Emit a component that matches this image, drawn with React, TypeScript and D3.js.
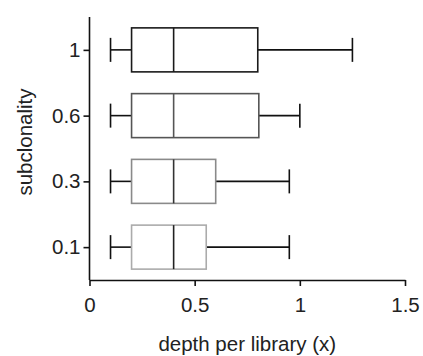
import React, { useEffect, useRef } from 'react';
import * as d3 from 'd3';

const categories = ['1', '0.6', '0.3', '0.1'];
const whiskerLow = [0.1, 0.1, 0.1, 0.1];
const q1 = [0.2, 0.2, 0.2, 0.2];
const median = [0.4, 0.4, 0.4, 0.4];
const q3 = [0.8, 0.805, 0.6, 0.555];
const whiskerHigh = [1.25, 1.0, 0.95, 0.95];
const boxColors = ['#1a1a1a', '#555555', '#8a8a8a', '#ababab'];
const medianColors = ['#1a1a1a', '#555555', '#333333', '#222222'];
const xTicks = [0, 0.5, 1, 1.5];

const App = () => {
  const svgRef = useRef(null);

  useEffect(() => {
    const svg = d3.select(svgRef.current);
    svg.selectAll('*').remove();

    const width = 423;
    const height = 356;
    const margin = { top: 17, right: 18, bottom: 76, left: 89.5 };
    const font = 'Liberation Sans, Arial, sans-serif';
    const fontSize = '20.5px';

    svg.attr('width', width).attr('height', height);

    const x = d3.scaleLinear()
      .domain([0, 1.5])
      .range([margin.left, width - margin.right]);

    const y = d3.scalePoint()
      .domain(categories)
      .range([margin.top, height - margin.bottom])
      .padding(0.5);

    const boxH = 44;

    // boxes
    categories.forEach((c, i) => {
      const cy = y(c);
      const g = svg.append('g');
      // whiskers
      g.append('line')
        .attr('x1', x(whiskerLow[i])).attr('x2', x(q1[i]))
        .attr('y1', cy).attr('y2', cy)
        .attr('stroke', '#111').attr('stroke-width', 1.6);
      g.append('line')
        .attr('x1', x(q3[i])).attr('x2', x(whiskerHigh[i]))
        .attr('y1', cy).attr('y2', cy)
        .attr('stroke', '#111').attr('stroke-width', 1.6);
      [whiskerLow[i], whiskerHigh[i]].forEach(v => {
        g.append('line')
          .attr('x1', x(v)).attr('x2', x(v))
          .attr('y1', cy - 12).attr('y2', cy + 12)
          .attr('stroke', '#111').attr('stroke-width', 1.6);
      });
      g.append('rect')
        .attr('x', x(q1[i]))
        .attr('y', cy - boxH / 2)
        .attr('width', x(q3[i]) - x(q1[i]))
        .attr('height', boxH)
        .attr('fill', 'white')
        .attr('stroke', boxColors[i])
        .attr('stroke-width', 1.6);
      g.append('line')
        .attr('x1', x(median[i])).attr('x2', x(median[i]))
        .attr('y1', cy - boxH / 2).attr('y2', cy + boxH / 2)
        .attr('stroke', medianColors[i]).attr('stroke-width', 1.6);
    });

    // x axis
    const xAxis = svg.append('g')
      .attr('transform', `translate(0,${height - margin.bottom})`)
      .call(d3.axisBottom(x).tickValues(xTicks).tickFormat(d => String(d)).tickSize(6).tickSizeOuter(0));
    xAxis.select('.domain').attr('stroke', '#111').attr('stroke-width', 1.6);
    xAxis.selectAll('.tick line').attr('stroke', '#111').attr('stroke-width', 1.6);
    xAxis.selectAll('text')
      .attr('y', 32)
      .attr('dy', 0)
      .style('font-family', font)
      .style('font-size', fontSize)
      .attr('fill', '#222');

    // y axis
    const yAxis = svg.append('g')
      .attr('transform', `translate(${margin.left},0)`)
      .call(d3.axisLeft(y).tickSize(6).tickSizeOuter(0));
    yAxis.select('.domain')
      .attr('d', `M0,${margin.top}V${height - margin.bottom}`)
      .attr('stroke', '#111').attr('stroke-width', 1.6);
    yAxis.selectAll('.tick line').attr('stroke', '#111').attr('stroke-width', 1.6);
    yAxis.selectAll('text')
      .attr('x', -9)
      .style('font-family', font)
      .style('font-size', fontSize)
      .attr('fill', '#222');

    // axis labels
    svg.append('text')
      .attr('x', x(0.75))
      .attr('y', 351)
      .attr('text-anchor', 'middle')
      .style('font-family', font)
      .style('font-size', fontSize)
      .attr('fill', '#222')
      .text('depth per library (x)');

    svg.append('text')
      .attr('transform', 'translate(32,142) rotate(-90)')
      .attr('text-anchor', 'middle')
      .style('font-family', font)
      .style('font-size', fontSize)
      .attr('fill', '#222')
      .text('subclonality');
  }, []);

  return (
    <svg ref={svgRef} style={{ position: 'absolute', left: 0, top: 0, background: 'white' }}></svg>
  );
};

export default App;
